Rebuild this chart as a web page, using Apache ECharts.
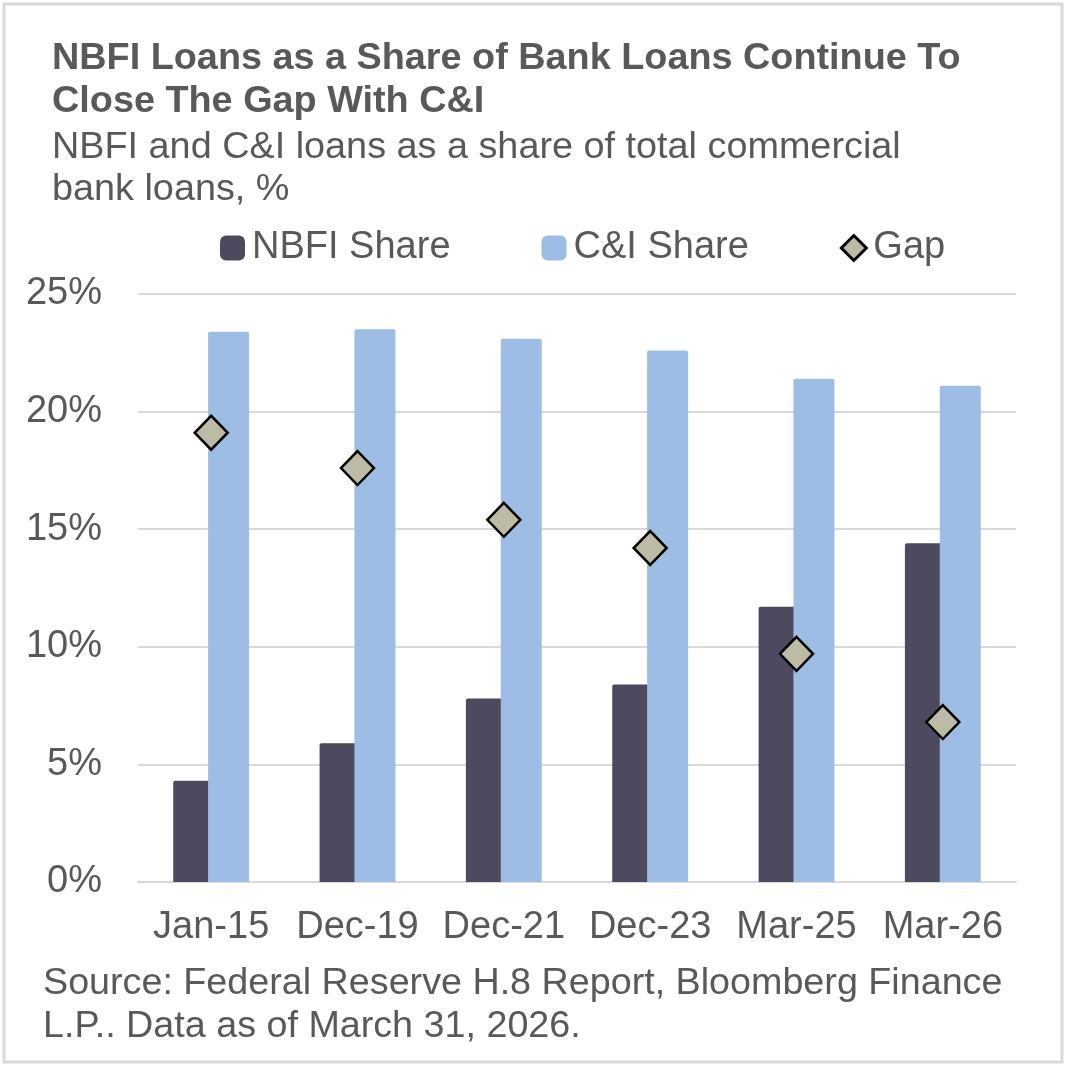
<!DOCTYPE html>
<html>
<head>
<meta charset="utf-8">
<script src="https://cdn.jsdelivr.net/npm/echarts@6/dist/echarts.min.js"></script>
<style>
html,body{margin:0;padding:0;background:#fff;}
#chart{width:1068px;height:1067px;}
</style>
</head>
<body>
<div id="chart"></div>
<script>
const categories = ['Jan-15', 'Dec-19', 'Dec-21', 'Dec-23', 'Mar-25', 'Mar-26'];
const nbfiShare = [4.3, 5.9, 7.8, 8.4, 11.7, 14.4];
const ciShare = [23.4, 23.5, 23.1, 22.6, 21.4, 21.1];
const gapValues = [19.1, 17.6, 15.4, 14.2, 9.7, 6.8];
const yTicks = [0, 5, 10, 15, 20, 25];

const FONT = "'Liberation Sans', Arial, Helvetica, sans-serif";
const TXT = '#595959';

const chart = echarts.init(document.getElementById('chart'), null, {renderer: 'canvas'});
chart.setOption({
  animation: false,
  backgroundColor: '#ffffff',
  textStyle: {fontFamily: FONT},
  graphic: [
    {type: 'rect', shape: {x: 4, y: 4, width: 1058, height: 1058},
     style: {fill: 'none', stroke: '#d9d9d9', lineWidth: 3}, silent: true},
    {type: 'text', x: 52, y: 80.5,
     style: {text: 'NBFI Loans as a Share of Bank Loans Continue To\nClose The Gap With C&I',
       font: 'bold 37.8px ' + FONT, fill: TXT, verticalAlign: 'middle', lineHeight: 43}},
    {type: 'text', x: 52, y: 168.5,
     style: {text: 'NBFI and C&I loans as a share of total commercial\nbank loans, %',
       font: '37.8px ' + FONT, fill: TXT, verticalAlign: 'middle', lineHeight: 42}},
    {type: 'text', x: 43, y: 1005,
     style: {text: 'Source: Federal Reserve H.8 Report, Bloomberg Finance\nL.P.. Data as of March 31, 2026.',
       font: '37.7px ' + FONT, fill: TXT, verticalAlign: 'middle', lineHeight: 43}}
  ],
  legend: {
    left: 220, top: 229, padding: 0,
    itemWidth: 25, itemHeight: 25, itemGap: 91,
    textStyle: {fontSize: 38, color: TXT, fontFamily: FONT, lineHeight: 38, padding: [0, 0, 0, 2]},
    data: [
      {name: 'NBFI Share', icon: 'roundRect'},
      {name: 'C&I Share', icon: 'roundRect'},
      {name: 'Gap', icon: 'diamond', itemStyle: {borderWidth: 3}}
    ]
  },
  grid: {left: 138, right: 52, top: 294, bottom: 185, containLabel: false},
  xAxis: {
    type: 'category', data: categories,
    axisTick: {show: false},
    axisLine: {show: true, lineStyle: {color: '#d9d9d9', width: 2}},
    axisLabel: {fontSize: 38, color: TXT, fontFamily: FONT, margin: 46, verticalAlign: 'middle', interval: 0}
  },
  yAxis: {
    type: 'value', min: yTicks[0], max: yTicks[yTicks.length - 1], interval: 5,
    axisLine: {show: false}, axisTick: {show: false},
    splitLine: {lineStyle: {color: '#d9d9d9', width: 2}},
    axisLabel: {fontSize: 38, color: TXT, fontFamily: FONT, margin: 36,
      formatter: v => v + '%'}
  },
  series: [
    {name: 'NBFI Share', type: 'bar', data: nbfiShare, barWidth: 41, barGap: '-15%',
     itemStyle: {color: '#4d4a5f', borderRadius: [2, 2, 0, 0]}, z: 2},
    {name: 'C&I Share', type: 'bar', data: ciShare, barWidth: 41,
     itemStyle: {color: '#9dbde4', borderRadius: [2, 2, 0, 0]}, z: 3},
    {name: 'Gap', type: 'scatter', data: gapValues, symbol: 'diamond', symbolSize: [33, 34],
     itemStyle: {color: '#bdbba5', borderColor: '#000000', borderWidth: 2.5, opacity: 1}, z: 5}
  ]
});
</script>
</body>
</html>
